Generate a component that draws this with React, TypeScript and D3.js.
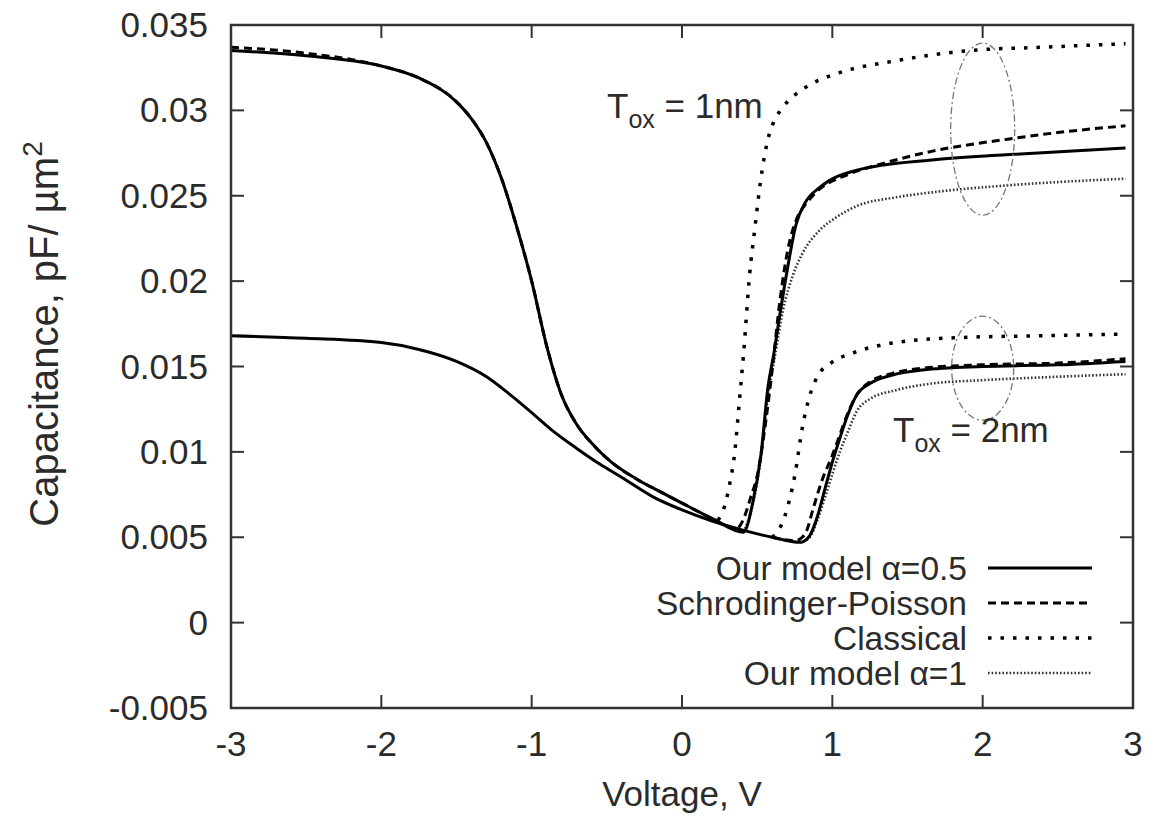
import React from "react";
import * as d3 from "d3";

// ---------- axis data ----------
const xTicks = [-3, -2, -1, 0, 1, 2, 3];
const xTickLabels = ["-3", "-2", "-1", "0", "1", "2", "3"];
const yTicks = [-0.005, 0, 0.005, 0.01, 0.015, 0.02, 0.025, 0.03, 0.035];
const yTickLabels = ["-0.005", "0", "0.005", "0.01", "0.015", "0.02", "0.025", "0.03", "0.035"];

// ---------- Tox = 1nm ----------
const v1Model05 = [-3, -2.5, -2, -1.75, -1.5, -1.4, -1.3, -1.2, -1.1, -1.0, -0.9, -0.8, -0.7, -0.6, -0.47, -0.3, -0.13, 0, 0.2, 0.41, 0.47, 0.526, 0.572, 0.612, 0.645, 0.699, 0.758, 0.82, 0.918, 1.164, 1.663, 2.155, 2.95];
const c1Model05 = [0.0335, 0.0332, 0.0326, 0.0319, 0.0305, 0.0295, 0.0281, 0.026, 0.0232, 0.02, 0.0162, 0.0133, 0.0116, 0.0105, 0.0094, 0.0084, 0.0076, 0.007, 0.0061, 0.0053, 0.007, 0.0099, 0.0138, 0.0158, 0.0177, 0.0206, 0.0233, 0.0246, 0.0255, 0.0265, 0.0271, 0.0274, 0.0278];

const v1SP = [-3, -2.5, -2, -1.75, -1.5, -1.4, -1.3, -1.2, -1.1, -1.0, -0.9, -0.8, -0.7, -0.6, -0.47, -0.3, -0.13, 0, 0.2, 0.36, 0.406, 0.452, 0.505, 0.559, 0.6, 0.652, 0.718, 0.85, 1.12, 1.3, 1.66, 2.155, 2.5, 2.95];
const c1SP = [0.0337, 0.03335, 0.0326, 0.0319, 0.0305, 0.0295, 0.0281, 0.026, 0.0232, 0.02, 0.0162, 0.0133, 0.0116, 0.0105, 0.0094, 0.0084, 0.0076, 0.007, 0.0061, 0.0055, 0.006, 0.0072, 0.0088, 0.0119, 0.0148, 0.0189, 0.0224, 0.0248, 0.0263, 0.0268, 0.0276, 0.0283, 0.0287, 0.0291];

const v1Classical = [0.24, 0.286, 0.319, 0.35, 0.38, 0.41, 0.45, 0.486, 0.52, 0.55, 0.58, 0.62, 0.672, 0.75, 0.85, 1.044, 1.417, 1.91, 2.4, 2.95];
const c1Classical = [0.006, 0.0069, 0.0082, 0.0099, 0.0128, 0.0158, 0.0204, 0.0232, 0.0257, 0.0274, 0.0286, 0.0295, 0.0302, 0.0309, 0.0315, 0.0322, 0.0329, 0.0335, 0.0337, 0.0339];

const v1Model1 = [0.41, 0.47, 0.526, 0.572, 0.612, 0.672, 0.74, 0.8, 0.918, 1.02, 1.164, 1.417, 1.663, 2.155, 2.95];
const c1Model1 = [0.0053, 0.0069, 0.0097, 0.0133, 0.0153, 0.0183, 0.0204, 0.0216, 0.023, 0.0237, 0.0244, 0.0249, 0.0252, 0.0256, 0.026];

// ---------- Tox = 2nm ----------
const v2Model05 = [-3, -2.5, -2, -1.75, -1.5, -1.3, -1.15, -1.0, -0.87, -0.7, -0.55, -0.4, -0.19, 0, 0.2, 0.41, 0.6, 0.785, 0.85, 0.9, 0.95, 1.0, 1.05, 1.1, 1.16, 1.25, 1.4, 1.6, 2.0, 2.5, 2.95];
const c2Model05 = [0.0168, 0.01665, 0.0164, 0.016, 0.0153, 0.0144, 0.0134, 0.0123, 0.0113, 0.0102, 0.0093, 0.0085, 0.00735, 0.0066, 0.00595, 0.0054, 0.005, 0.0047, 0.0051, 0.0062, 0.0078, 0.0094, 0.0108, 0.0121, 0.0133, 0.014, 0.0145, 0.0148, 0.015, 0.0151, 0.0153];

const v2SP = [0.6, 0.75, 0.8, 0.83, 0.87, 0.93, 1.0, 1.05, 1.1, 1.16, 1.25, 1.4, 1.6, 2.0, 2.5, 2.95];
const c2SP = [0.005, 0.0048, 0.005, 0.0054, 0.0066, 0.0083, 0.0098, 0.011, 0.0122, 0.0133, 0.0141, 0.0146, 0.0149, 0.0151, 0.0152, 0.01545];

const v2Classical = [0.6, 0.665, 0.7, 0.75, 0.8, 0.85, 0.9, 0.99, 1.14, 1.42, 1.86, 2.4, 2.95];
const c2Classical = [0.005, 0.0058, 0.0067, 0.0086, 0.0114, 0.0133, 0.0144, 0.0152, 0.0158, 0.0164, 0.0167, 0.0168, 0.0169];

const v2Model1 = [0.785, 0.85, 0.9, 0.95, 1.0, 1.05, 1.1, 1.164, 1.25, 1.417, 1.66, 2.0, 2.5, 2.95];
const c2Model1 = [0.0047, 0.005, 0.006, 0.0073, 0.0087, 0.01, 0.0111, 0.0124, 0.0131, 0.0136, 0.014, 0.0142, 0.0144, 0.01455];

// ---------- legend ----------
const legendLabels = ["Our model \u03B1=0.5", "Schrodinger-Poisson", "Classical", "Our model \u03B1=1"];

const W = 1157;
const H = 817;
const plot = { left: 231, right: 1133, top: 25, bottom: 708 };
const FONT = "'Liberation Sans', Arial, Helvetica, sans-serif";
const FS = 35;
const LEGEND_FS = 33.5;
const TEXT = "#2b2b2b";

const styles = [
  { stroke: "#000", width: 3, dash: "none" },
  { stroke: "#000", width: 3, dash: "8,5" },
  { stroke: "#000", width: 3.5, dash: "3.5,9" },
  { stroke: "#333", width: 2.6, dash: "1.6,2" },
];

export default function App() {
  const x = d3.scaleLinear().domain([-3, 3]).range([plot.left, plot.right]);
  const y = d3.scaleLinear().domain([-0.005, 0.035]).range([plot.bottom, plot.top]);
  const line = d3
    .line<[number, number]>()
    .x((d) => x(d[0]))
    .y((d) => y(d[1]))
    .curve(d3.curveMonotoneX);
  const pts = (vs: number[], cs: number[]) => vs.map((v, i) => [v, cs[i]] as [number, number]);

  const series = [
    { d: pts(v1Model1, c1Model1), s: 3 },
    { d: pts(v2Model1, c2Model1), s: 3 },
    { d: pts(v1Classical, c1Classical), s: 2 },
    { d: pts(v2Classical, c2Classical), s: 2 },
    { d: pts(v1Model05, c1Model05), s: 0 },
    { d: pts(v2Model05, c2Model05), s: 0 },
    { d: pts(v1SP, c1SP), s: 1 },
    { d: pts(v2SP, c2SP), s: 1 },
  ];

  const tickLen = 13;
  const legendRowY = [580, 615, 650, 685];

  return (
    <svg width={W} height={H} style={{ position: "absolute", left: 0, top: 0, background: "#fff" }} fontFamily={FONT}>
      <rect x={0} y={0} width={W} height={H} fill="#fff" />
      {/* curves */}
      <g fill="none">
        {series.map((sr, i) => (
          <path
            key={i}
            d={line(sr.d) || ""}
            stroke={styles[sr.s].stroke}
            strokeWidth={styles[sr.s].width}
            strokeDasharray={styles[sr.s].dash}
            strokeLinejoin="round"
          />
        ))}
      </g>
      {/* ellipses */}
      <ellipse cx={x(2)} cy={y(0.0289)} rx={32} ry={86} fill="none" stroke="#777" strokeWidth={1.3} strokeDasharray="7,3,2,3" />
      <ellipse cx={x(2)} cy={y(0.0149)} rx={31} ry={52} fill="none" stroke="#777" strokeWidth={1.3} strokeDasharray="7,3,2,3" />
      {/* annotations */}
      <text x={607} y={118} fontSize={FS} fill={TEXT}>
        T<tspan dy={10} fontSize={25}>ox</tspan>
        <tspan dy={-10}> = 1nm</tspan>
      </text>
      <text x={893} y={442} fontSize={FS} fill={TEXT}>
        T<tspan dy={10} fontSize={25}>ox</tspan>
        <tspan dy={-10}> = 2nm</tspan>
      </text>
      {/* legend */}
      {legendLabels.map((lab, i) => (
        <g key={lab}>
          <text x={967} y={legendRowY[i]} fontSize={LEGEND_FS} fill={TEXT} textAnchor="end">
            {lab}
          </text>
          <line
            x1={988}
            x2={1092}
            y1={legendRowY[i] - 12}
            y2={legendRowY[i] - 12}
            stroke={styles[i].stroke}
            strokeWidth={styles[i].width}
            strokeDasharray={styles[i].dash}
          />
        </g>
      ))}
      {/* ticks */}
      <g stroke="#333" strokeWidth={2}>
        {xTicks.map((t) => (
          <g key={"xt" + t}>
            <line x1={x(t)} x2={x(t)} y1={plot.bottom} y2={plot.bottom - tickLen} />
            <line x1={x(t)} x2={x(t)} y1={plot.top} y2={plot.top + tickLen} />
          </g>
        ))}
        {yTicks.map((t) => (
          <g key={"yt" + t}>
            <line x1={plot.left} x2={plot.left + tickLen} y1={y(t)} y2={y(t)} />
            <line x1={plot.right} x2={plot.right - tickLen} y1={y(t)} y2={y(t)} />
          </g>
        ))}
      </g>
      {/* frame */}
      <rect
        x={plot.left}
        y={plot.top}
        width={plot.right - plot.left}
        height={plot.bottom - plot.top}
        fill="none"
        stroke="#333"
        strokeWidth={2.5}
      />
      {/* tick labels */}
      {xTicks.map((t, i) => (
        <text key={"xl" + t} x={x(t)} y={756} fontSize={FS} fill={TEXT} textAnchor="middle">
          {xTickLabels[i]}
        </text>
      ))}
      {yTicks.map((t, i) => (
        <text key={"yl" + t} x={208} y={y(t) + 12} fontSize={FS} fill={TEXT} textAnchor="end">
          {yTickLabels[i]}
        </text>
      ))}
      {/* axis titles */}
      <text x={(plot.left + plot.right) / 2} y={806} fontSize={FS} fill={TEXT} textAnchor="middle">
        Voltage, V
      </text>
      <text
        transform={`translate(58, 334) rotate(-90)`}
        fontSize={40}
        fill={TEXT}
        textAnchor="middle"
      >
        Capacitance, pF/ µm<tspan dy={-16} fontSize={28}>2</tspan>
      </text>
    </svg>
  );
}
